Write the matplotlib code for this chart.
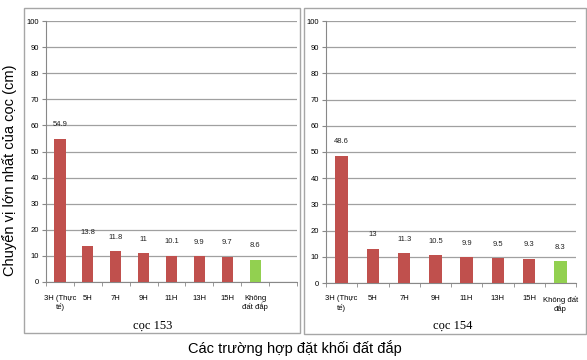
import matplotlib.pyplot as plt
from matplotlib.patches import Rectangle

cats_153 = ["3H (Thực\ntế)", "5H", "7H", "9H", "11H", "13H", "15H", "Không\nđất đắp"]
vals_153 = [54.9, 13.8, 11.8, 11, 10.1, 9.9, 9.7, 8.6]
cats_154 = ["3H (Thực\ntế)", "5H", "7H", "9H", "11H", "13H", "15H", "Không đất\nđắp"]
vals_154 = [48.6, 13, 11.3, 10.5, 9.9, 9.5, 9.3, 8.3]
yticks = [0, 10, 20, 30, 40, 50, 60, 70, 80, 90, 100]

red = "#C0504D"
green = "#92D050"
W, H = 587, 360

plt.rcParams['font.family'] = ['Liberation Sans', 'DejaVu Sans']
fig = plt.figure(figsize=(W / 100, H / 100), dpi=100)
fig.patch.set_facecolor("white")


def px_axes(x0, x1, ytop, ybot):
    return fig.add_axes([x0 / W, (H - ybot) / H, (x1 - x0) / W, (ybot - ytop) / H])


# outer frames of the two charts
for x0, x1, y0, y1 in [(24, 300, 8, 333), (304, 586, 8, 334)]:
    fig.patches.append(Rectangle((x0 / W, (H - y1) / H), (x1 - x0) / W, (y1 - y0) / H,
                                 transform=fig.transFigure, fill=False,
                                 edgecolor="#A6A6A6", linewidth=1.0))


def draw(ax, cats, vals, nslots, title, labx):
    xs = list(range(len(vals)))
    colors = [red] * (len(vals) - 1) + [green]
    ax.bar(xs, vals, width=0.4, color=colors, zorder=3)
    for x, v in zip(xs, vals):
        ax.text(x, v + 4, f"{v:g}", ha="center", va="bottom", fontsize=5.5, color="#222222")
    ax.set_xlim(-0.5, nslots - 0.5)
    ax.set_ylim(0, 100)
    ax.set_yticks(yticks)
    ax.tick_params(axis="y", labelsize=5.5, length=3, color="#888888", pad=2)
    ax.set_xticks(xs)
    ax.set_xticklabels(cats, fontsize=5.5)
    ax.tick_params(axis="x", length=0, pad=9)
    ax.set_xticks([i - 0.5 for i in range(nslots + 1)], minor=True)
    ax.tick_params(axis="x", which="minor", length=3, color="#888888")
    ax.grid(axis="y", color="#A0A0A0", linewidth=0.9, zorder=0)
    for s in ["top", "right"]:
        ax.spines[s].set_visible(False)
    ax.spines["left"].set_color("#888888")
    ax.spines["bottom"].set_color("#888888")
    fig.text(labx / W, 1 - 326 / H, title, ha="center", va="center",
             fontsize=9, family="Liberation Serif")


ax1 = px_axes(46, 297, 21, 282)
draw(ax1, cats_153, vals_153, 9, "cọc 153", 153)
ax2 = px_axes(326, 576, 21, 283)
draw(ax2, cats_154, vals_154, 8, "cọc 154", 453)

fig.text(10 / W, 1 - 170 / H, "Chuyển vị lớn nhất của cọc (cm)", rotation=90,
         ha="center", va="center", fontsize=10.5)
fig.text(295 / W, 1 - 348 / H, "Các trường hợp đặt khối đất đắp",
         ha="center", va="center", fontsize=10.5)

fig.savefig("out.png", dpi=100)
